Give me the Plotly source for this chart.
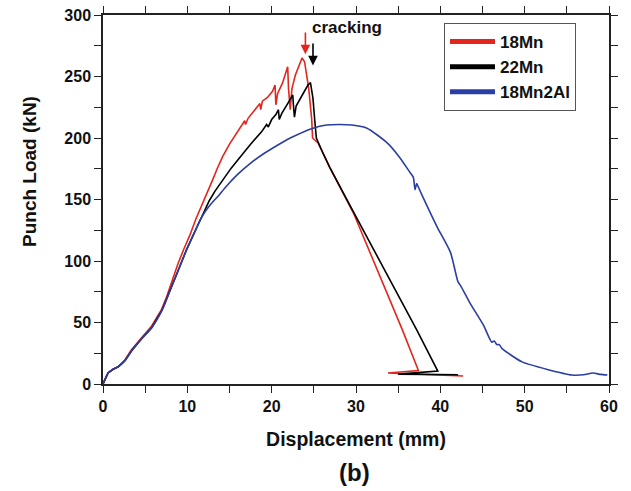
import plotly.graph_objects as go

# ---- data ----
mn18_x = [0, 0.6, 1.2, 1.8, 2.6, 3.35, 4.5, 5.7, 6.9, 7.5, 8.2, 8.9, 9.6, 10.3, 11.0, 11.9, 12.5, 13.0,
          13.6, 14.2, 15.0, 15.9, 16.5, 16.8, 16.9, 17.2, 17.9, 18.6, 18.7, 18.9, 19.5, 20.1, 20.4, 20.5,
          20.7, 21.3, 21.9, 22.0, 22.2, 22.4, 22.8, 23.2, 23.6, 23.9, 24.4, 24.75, 24.85, 25.5, 26.9, 29.7,
          35.5, 37.4, 33.8, 42.7]
mn18_y = [0, 9, 12, 14, 19.5, 27.6, 37, 46.5, 60, 70, 84, 98, 110, 121, 134, 148, 158, 166,
          176, 185, 195, 204, 210, 214, 211, 216, 222, 228, 223, 230, 233, 238, 243, 227,
          236, 245, 258, 240, 223, 240, 251, 258, 265, 262, 240, 215, 200, 196, 176, 139,
          44, 11, 9, 6.5]

mn22_x = [0, 0.6, 1.2, 1.8, 2.6, 3.4, 4.6, 5.8, 7.0, 7.95, 8.9, 9.9, 10.9, 11.9, 12.6, 13.3, 13.9, 14.5,
          15.2, 16.2, 17.5, 18.8, 19.4, 19.6, 20.0, 20.5, 20.8, 20.9, 21.2, 21.9, 22.5, 22.6, 22.7, 22.9,
          23.7, 24.3, 24.6, 24.9, 25.1, 25.3, 26.0, 26.9, 29.3, 37.2, 39.7, 35.0, 42.1]
mn22_y = [0, 9, 12, 14, 19, 27, 37, 46, 60, 76, 92, 109, 124, 139, 149, 157, 163, 169,
          175.5, 184, 195, 205, 211, 209, 215, 219, 223, 215, 220, 228, 235, 225, 217, 226,
          236, 243, 245, 232, 215, 200, 189, 176, 145, 44, 10.5, 8, 7.5]

al_x = [0, 0.6, 1.2, 1.8, 2.6, 3.4, 4.6, 5.8, 7.0, 7.95, 8.9, 9.9, 10.9, 11.5, 12.2, 13.0, 13.7, 14.4,
        15.9, 17.4, 19.0, 21.4, 22.2, 24.9, 26.5, 28.1, 29.5, 31.3, 33.7, 35.2, 36.4, 36.8, 37.0, 37.2,
        37.4, 37.8, 39.6, 41.2, 42.1, 42.4, 43.5, 45.1, 46.1, 46.4, 46.7, 47.0, 47.3, 49.7, 55.6, 57.0,
        58.1, 59.0, 59.8]
al_y = [0, 9, 12, 14, 19, 27, 37, 46, 60, 76, 92, 109, 124, 133, 141, 148, 153, 159,
        170, 179, 187, 197, 200, 208, 210.5, 211, 210.5, 208, 196, 184, 172, 168, 158, 163,
        160, 154, 128, 107, 83, 80, 66, 48, 34, 35, 32, 32, 29, 18, 7.3, 7.5, 9, 7.8, 7.3]

series_names = ["18Mn", "22Mn", "18Mn2Al"]
series_colors = ["#e3261d", "#000000", "#2b3ea3"]
series_shapes = ["linear", "linear", "spline"]

x_ticks = [0, 10, 20, 30, 40, 50, 60]
y_ticks = [0, 50, 100, 150, 200, 250, 300]

FONT = "Liberation Sans, Arial, Helvetica, sans-serif"

W, H = 631, 491
ml, mr, mt, mb = 103, 22, 15, 107
pw, ph = W - ml - mr, H - mt - mb

fig = go.Figure()
for name, xs, ys, col, shp in zip(series_names, [mn18_x, mn22_x, al_x], [mn18_y, mn22_y, al_y],
                                  series_colors, series_shapes):
    line = dict(color=col, width=1.6, shape=shp)
    if shp == "spline":
        line["smoothing"] = 0.6
    fig.add_trace(go.Scatter(x=xs, y=ys, mode="lines", line=line, showlegend=False, hoverinfo="skip"))
# legend samples (thicker lines like the reference)
for name, col in zip(series_names, series_colors):
    fig.add_trace(go.Scatter(x=[None], y=[None], mode="lines", name=f"<b>{name}</b>",
                             line=dict(color=col, width=5)))

axis_common = dict(
    showline=True, linecolor="#222222", linewidth=1.5, mirror="allticks",
    ticks="outside", ticklen=7, tickwidth=1.3, tickcolor="#222222",
    showgrid=False, zeroline=False, automargin=False,
    tickfont=dict(family=FONT, size=16, color="#111111", weight="bold"),
)

fig.update_xaxes(range=[0, 60], tickvals=x_ticks,
                 minor=dict(dtick=5, ticks="outside", ticklen=7, tickcolor="#222222", tickwidth=1.3),
                 title=dict(text="<b>Displacement (mm)</b>", font=dict(family=FONT, size=19.5, color="#111111"),
                            standoff=18),
                 **axis_common)
fig.update_yaxes(range=[0, 300], tickvals=y_ticks,
                 minor=dict(dtick=25, ticks="outside", ticklen=7, tickcolor="#222222", tickwidth=1.3),
                 **axis_common)

# annotations: cracking arrows
fig.add_annotation(x=24.0, y=268, ax=24.0, ay=287, xref="x", yref="y", axref="x", ayref="y",
                   showarrow=True, arrowhead=2, arrowsize=1.2, arrowwidth=1.6, arrowcolor="#e3261d", text="")
fig.add_annotation(x=24.9, y=259, ax=24.9, ay=278, xref="x", yref="y", axref="x", ayref="y",
                   showarrow=True, arrowhead=2, arrowsize=1.2, arrowwidth=1.6, arrowcolor="#000000", text="")
fig.add_annotation(x=24.6, y=289.5, xref="x", yref="y", text="<b>cracking</b>", showarrow=False,
                   xanchor="left", yanchor="middle", font=dict(family=FONT, size=17, color="#111111"))

# y-axis title
fig.add_annotation(x=(29 - ml) / pw, y=(H - mb - 172) / ph, xref="paper", yref="paper",
                   text="<b>Punch Load (kN)</b>", showarrow=False, textangle=-90,
                   xanchor="center", yanchor="middle",
                   font=dict(family=FONT, size=19, color="#111111"))
# panel label
fig.add_annotation(x=(354 - ml) / pw, y=(H - mb - 472) / ph, xref="paper", yref="paper",
                   text="<b>(b)</b>", showarrow=False,
                   xanchor="center", yanchor="middle", font=dict(family=FONT, size=24, color="#111111"))

fig.update_layout(
    width=W, height=H, margin=dict(l=ml, r=mr, t=mt, b=mb, autoexpand=False),
    paper_bgcolor="white", plot_bgcolor="white",
    legend=dict(x=(444 - ml) / pw, y=(H - mb - 23) / ph, xanchor="left", yanchor="top",
                bordercolor="#555555", borderwidth=1, bgcolor="white", itemwidth=45,
                font=dict(family=FONT, size=17, color="#111111"), tracegroupgap=0),
)

fig.write_html("out.html", config={"displayModeBar": False},
               post_script="document.body.style.margin='0px';")
